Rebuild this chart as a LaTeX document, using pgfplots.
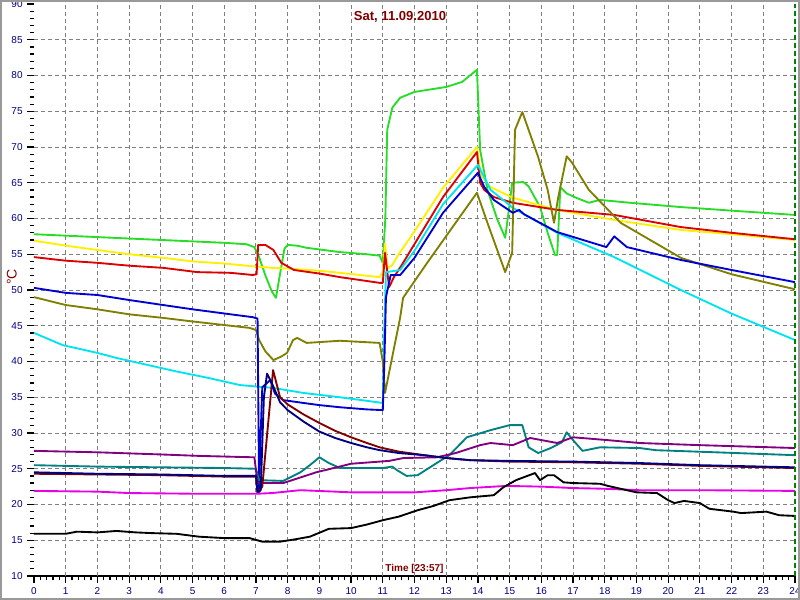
\documentclass[border=0pt]{standalone}
\usepackage{pgfplots}
\pgfplotsset{compat=1.18}
\usepackage{fontspec}
\setmainfont{Liberation Sans}
\definecolor{cgreen}{RGB}{40,220,40}
\definecolor{cyellow}{RGB}{255,240,0}
\definecolor{cred}{RGB}{220,0,0}
\definecolor{cblue}{RGB}{0,0,210}
\definecolor{ccyan}{RGB}{0,228,240}
\definecolor{colive}{RGB}{128,128,0}
\definecolor{cnavy}{RGB}{0,0,128}
\definecolor{cmaroon}{RGB}{128,0,0}
\definecolor{cteal}{RGB}{0,128,128}
\definecolor{cpurple}{RGB}{128,0,128}
\definecolor{cmagenta}{RGB}{230,0,230}
\definecolor{tlabel}{RGB}{0,0,128}
\definecolor{titlered}{RGB}{128,0,0}
\definecolor{nowgreen}{RGB}{0,128,0}
\begin{document}
\begin{tikzpicture}
\begin{axis}[
  scale only axis, width=570.75pt, height=429pt,
  at={(0pt,0pt)}, anchor=south west,
  xmin=0, xmax=24, ymin=10, ymax=90,
  axis x line*=bottom, axis y line*=left,
  y axis line style={draw=none},
  x axis line style={black, line width=0.9pt, -},
  xtick={0,...,24}, ytick={10,15,...,90},
  minor x tick num=4, minor y tick num=4,
  tick align=outside,
  major tick length=5pt, minor tick length=3pt,
  every tick/.style={black, line width=0.9pt},
  ticklabel style={font=\fontsize{7.5}{9}\selectfont, text=tlabel},
  /pgf/number format/assume math mode=true,
  extra x ticks={1,...,23}, extra x tick labels={},
  extra x tick style={grid=major, major tick length=0pt},
  extra y ticks={15,20,...,85}, extra y tick labels={},
  extra y tick style={grid=major, major tick length=0pt},
  major grid style={gray, dash pattern=on 3pt off 2.25pt, line width=0.75pt},
  every axis plot/.append style={line width=1.4pt, no markers, line join=round},
  clip=false,
]
% green
\addplot[cgreen] coordinates {(0,57.8) (1,57.6) (2,57.4) (3,57.2) (4,57.0) (5,56.8) (6,56.6) (6.7,56.4) (6.95,56.0) (7.1,54.6) (7.3,52) (7.5,49.8) (7.63,48.9) (7.75,52) (7.9,55.8) (8.0,56.3) (8.3,56.2) (8.6,55.9) (9.65,55.3) (10.5,55.0) (10.9,54.8) (11.0,53.8) (11.08,60) (11.14,72.4) (11.3,75.5) (11.55,76.9) (12.0,77.7) (13.0,78.4) (13.5,79.1) (13.97,80.8) (14.07,69.6) (14.3,64.0) (14.6,60) (14.86,57.3) (15.0,62) (15.08,65.0) (15.43,65.1) (15.6,64.5) (15.96,61.6) (16.2,58) (16.43,54.9) (16.5,54.9) (16.6,64.4) (16.8,63.5) (17.1,62.9) (17.5,62.2) (17.85,62.6) (18.8,62.2) (20.4,61.6) (22,61.1) (24,60.5)};
% yellow
\addplot[cyellow] coordinates {(0,56.9) (1,56.2) (2,55.6) (3,55.0) (4.07,54.5) (5,54.0) (6,53.7) (6.7,53.4) (7.5,53.1) (8,53.0) (9,52.7) (9.65,52.4) (10.9,51.8) (11.0,52.5) (11.07,56.5) (11.15,53) (11.3,53.5) (11.5,55) (12.0,58.2) (12.9,64.3) (13.5,67.5) (13.97,70.0) (14.1,66) (14.4,64.4) (15.1,62.9) (16.5,61.2) (18.3,59.8) (20.4,58.4) (22,57.8) (24,57.0)};
% red
\addplot[cred] coordinates {(0,54.6) (1,54.1) (2,53.8) (3,53.4) (4.07,53.1) (5.15,52.5) (6.2,52.4) (6.9,52.1) (7.02,52.2) (7.07,56.3) (7.3,56.3) (7.55,55.6) (7.8,53.8) (8.2,52.8) (9.0,52.3) (9.65,51.8) (10.9,51.0) (11.0,51.0) (11.07,55.2) (11.2,50.4) (11.35,51.8) (11.6,53.5) (12.9,63.0) (13.97,69.3) (14.07,65) (14.2,64.0) (14.5,63.0) (15.1,62.2) (16.5,61.2) (18.3,60.5) (20.4,58.8) (22,58) (24,57.1)};
% cyan
\addplot[ccyan] coordinates {(0,44.0) (0.9,42.3) (2,41.2) (2.6,40.5) (3.5,39.6) (4.5,38.6) (5.5,37.7) (6.5,36.7) (7.55,36.3) (8.5,35.6) (9.65,35.0) (10.5,34.5) (11.0,34.2) (11.05,45) (11.1,52.5) (11.55,52.8) (12.0,55.5) (12.9,62.0) (14.0,67.5) (14.4,64.0) (15.1,61.5) (16.5,58.0) (18.3,54.6) (20.4,50.0) (22,46.7) (24,43.0)};
% olive
\addplot[colive] coordinates {(0,49.0) (1,47.9) (2,47.3) (3,46.6) (4.07,46.1) (5,45.6) (6.2,45.0) (6.8,44.7) (7.0,44.4) (7.1,43.0) (7.3,41.4) (7.55,40.2) (7.8,40.7) (7.98,41.2) (8.17,43.0) (8.3,43.3) (8.6,42.6) (9.65,42.9) (10.9,42.6) (11.0,40) (11.07,35.6) (11.55,46.2) (11.64,48.9) (12.4,53.8) (13.97,63.6) (14.3,59.4) (14.86,52.5) (15.08,55.2) (15.17,72.4) (15.4,74.9) (15.9,68.6) (16.2,64.0) (16.4,59.4) (16.53,62.9) (16.8,68.7) (16.97,67.8) (17.5,64.0) (18.5,59.4) (20.4,54.5) (22,52.2) (24,50.1)};
% blue
\addplot[cblue] coordinates {(0,50.3) (1,49.6) (2,49.3) (3,48.6) (4.07,47.9) (5,47.3) (6.2,46.6) (6.9,46.2) (7.05,46.0) (7.1,22) (7.15,30) (7.2,36.4) (7.45,37.4) (7.6,35.5) (7.86,34.6) (8.5,34.2) (9.0,33.9) (9.65,33.6) (10.5,33.3) (11.0,33.2) (11.05,40) (11.1,49.0) (11.25,52.1) (11.55,52.1) (12.0,54.5) (12.9,60.8) (14.0,66.4) (14.2,64.4) (14.5,62.6) (15.1,60.8) (15.3,61.2) (15.45,60.6) (16.5,58.1) (18.05,56.0) (18.3,57.5) (18.7,56.0) (20.4,54.2) (22,52.8) (24,51.1)};
% teal
\addplot[cteal] coordinates {(0,25.5) (2,25.3) (4,25.2) (6,25.1) (7.0,25.0) (7.1,23.4) (7.86,23.3) (8.4,24.5) (8.7,25.5) (9.0,26.6) (9.3,25.8) (9.65,25.1) (11.0,25.1) (11.3,25.3) (11.45,24.8) (11.75,24.0) (12.1,24.1) (12.7,25.8) (13.1,26.9) (13.65,29.4) (14.4,30.4) (15.0,31.1) (15.4,31.1) (15.6,28.0) (15.9,27.2) (16.3,27.9) (16.65,28.7) (16.8,30.1) (17.0,29.0) (17.3,27.5) (17.85,28.0) (19.1,27.9) (19.6,27.6) (21.5,27.3) (24,26.9)};
% purple
\addplot[cpurple] coordinates {(0,27.5) (2,27.3) (4,27.0) (5.2,26.8) (6.95,26.6) (7.05,23.0) (7.86,23.0) (8.9,24.5) (10,25.7) (11.2,26.1) (11.65,26.5) (12.7,26.6) (13.3,27.2) (14.07,28.3) (14.4,28.6) (15.1,28.3) (15.65,29.3) (16.5,28.6) (17.0,29.4) (18.1,29.0) (19.1,28.6) (21,28.3) (24,27.9)};
% maroon
\addplot[cmaroon] coordinates {(0,24.3) (2,24.2) (4,24.1) (6,23.9) (7.0,23.9) (7.05,21.6) (7.2,22.5) (7.54,38.8) (7.76,35.0) (8.0,34.0) (8.5,32.6) (9.0,31.4) (9.5,30.3) (10,29.4) (10.5,28.6) (10.9,28.0) (11.5,27.4) (12.3,26.9) (13,26.5) (13.75,26.2) (15,26.0) (17,25.9) (19.1,25.7) (21,25.4) (24,25.1)};
% navy
\addplot[cnavy] coordinates {(0,24.5) (2,24.3) (4,24.2) (6,24.0) (7.0,24.0) (7.05,21.6) (7.15,22) (7.25,35) (7.35,38.3) (7.5,37) (7.76,34.3) (8.0,33.2) (8.5,31.6) (9.0,30.2) (9.5,29.3) (10,28.6) (10.5,28.0) (10.9,27.6) (11.5,27.2) (12.3,26.9) (13,26.5) (13.75,26.2) (15,26.1) (17,26.0) (19.1,25.8) (21,25.5) (24,25.2)};
% magenta
\addplot[cmagenta] coordinates {(0,21.9) (2,21.8) (3,21.6) (5.2,21.5) (7.0,21.5) (7.5,21.6) (8.4,22.0) (9.5,21.8) (10,21.7) (12,21.7) (13,22.0) (13.75,22.3) (14.9,22.6) (16,22.5) (17,22.3) (18,22.2) (19.1,22.0) (21,22.0) (24,21.9)};
% black
\addplot[black] coordinates {(0,15.9) (1.0,15.9) (1.35,16.2) (2.0,16.1) (2.6,16.3) (3.2,16.1) (3.7,16.0) (4.5,15.9) (5.2,15.5) (6.0,15.3) (6.8,15.3) (7.2,14.8) (7.76,14.8) (8.2,15.1) (8.7,15.5) (9.3,16.6) (10.0,16.7) (10.5,17.2) (11.0,17.8) (11.5,18.3) (12.1,19.2) (12.6,19.8) (13.1,20.6) (13.75,21.0) (14.5,21.3) (14.8,22.4) (15.2,23.4) (15.8,24.4) (15.96,23.4) (16.2,24.1) (16.4,24.1) (16.7,23.1) (17.0,23.0) (17.85,22.9) (18.1,22.6) (18.4,22.3) (19.0,21.7) (19.65,21.6) (20.0,20.6) (20.2,20.2) (20.5,20.5) (21.0,20.2) (21.3,19.4) (22.05,19.0) (22.3,18.8) (23.1,19.0) (23.5,18.5) (24,18.4)};
% current time marker
\addplot[nowgreen, line width=0.9pt, dash pattern=on 4pt off 2pt] coordinates {(24,10) (24,90)};
\node[font=\bfseries\fontsize{9.8}{12}\selectfont, text=titlered] at (rel axis cs:0.481,0.977) {Sat, 11.09.2010};
\node[font=\bfseries\fontsize{7.5}{9}\selectfont, text=titlered] at (rel axis cs:0.50,0.013) {Time [23:57]};
\node[font=\fontsize{10.5}{12}\selectfont, text=titlered, rotate=90] at (rel axis cs:-0.029,0.523) {°C};
\end{axis}
\draw[gray!80, line width=1.5pt] (-24.75pt,-17.25pt) rectangle (573.75pt,431.25pt);
\pgfresetboundingbox
\useasboundingbox (-25.5pt,-18pt) rectangle (574.5pt,432pt);
\end{tikzpicture}
\end{document}
